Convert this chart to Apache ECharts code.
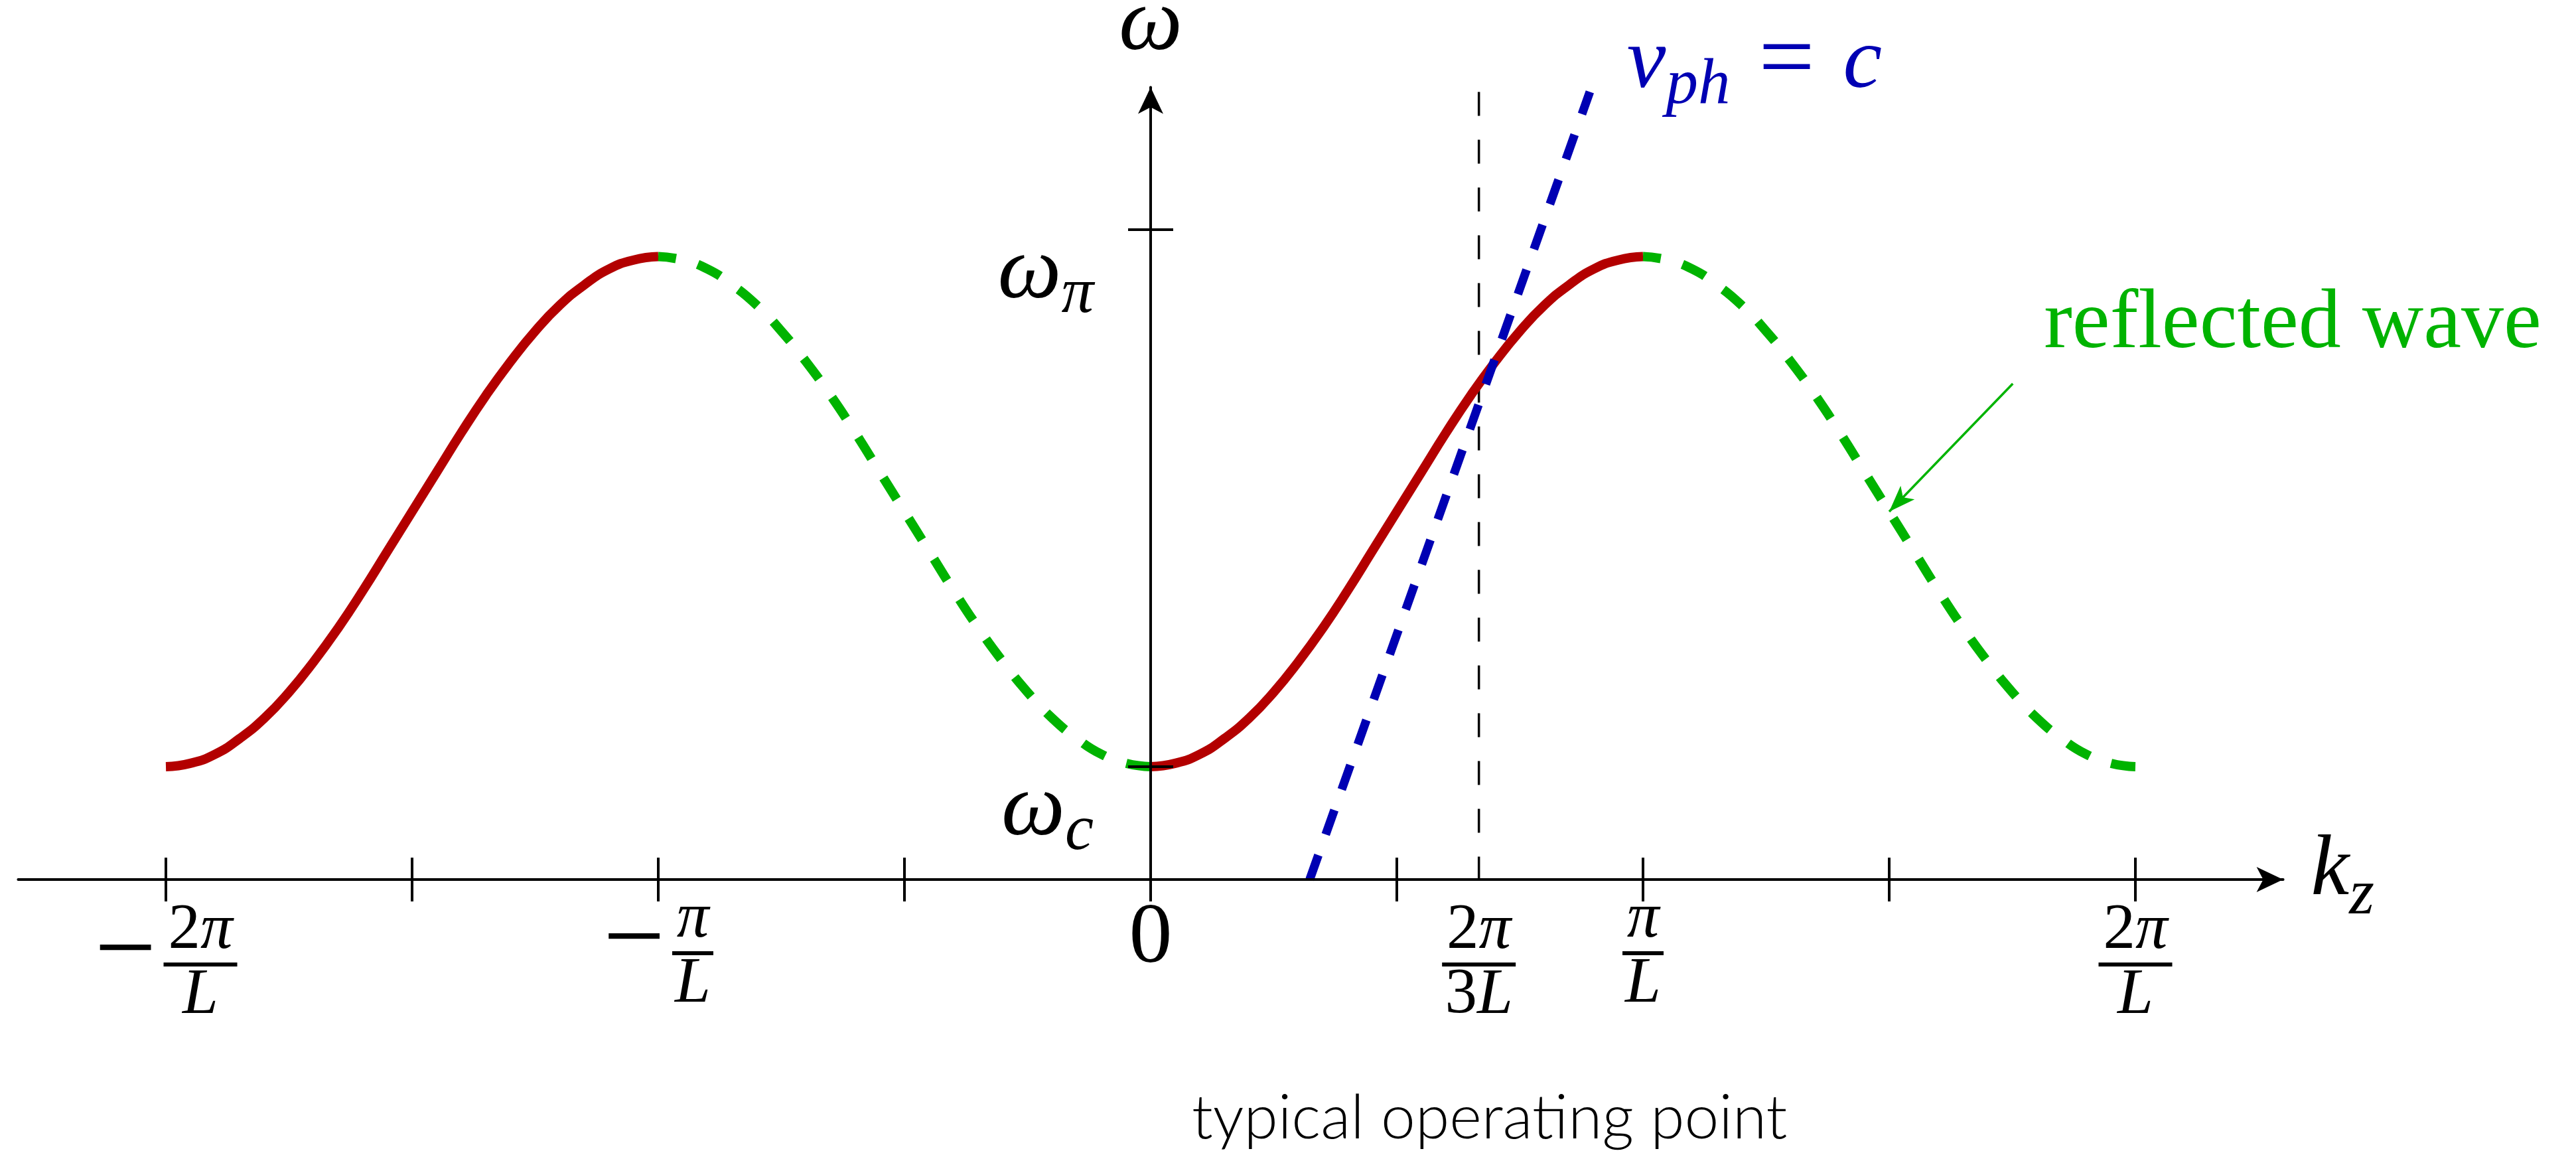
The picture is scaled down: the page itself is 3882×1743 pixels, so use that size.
<!DOCTYPE html>
<html>
<head>
<meta charset="utf-8">
<title>Dispersion diagram of a periodic waveguide</title>
<script src="https://cdn.jsdelivr.net/npm/echarts@6/dist/echarts.min.js"></script>
<style>
  html, body { margin: 0; padding: 0; background: #ffffff; }
  #chart { width: 3882px; height: 1743px; }
</style>
</head>
<body>
<div id="chart"></div>
<script>
// Wave number k_z in units of pi/L
const kzGrid = [
  -2.00, -1.95, -1.90, -1.85, -1.80, -1.75, -1.70, -1.65, -1.60, -1.55,
  -1.50, -1.45, -1.40, -1.35, -1.30, -1.25, -1.20, -1.15, -1.10, -1.05,
  -1.00, -0.95, -0.90, -0.85, -0.80, -0.75, -0.70, -0.65, -0.60, -0.55,
  -0.50, -0.45, -0.40, -0.35, -0.30, -0.25, -0.20, -0.15, -0.10, -0.05,
  0.00, 0.05, 0.10, 0.15, 0.20, 0.25, 0.30, 0.35, 0.40, 0.45,
  0.50, 0.55, 0.60, 0.65, 0.70, 0.75, 0.80, 0.85, 0.90, 0.95,
  1.00, 1.05, 1.10, 1.15, 1.20, 1.25, 1.30, 1.35, 1.40, 1.45,
  1.50, 1.55, 1.60, 1.65, 1.70, 1.75, 1.80, 1.85, 1.90, 1.95,
  2.00
];
// Frequency omega(k_z) in units of omega_c
const omegaCurve = [
  1.00, 1.03, 1.11, 1.25, 1.43, 1.66, 1.93, 2.23, 2.56, 2.91,
  3.26, 3.61, 3.96, 4.29, 4.59, 4.86, 5.09, 5.27, 5.41, 5.49,
  5.52, 5.49, 5.41, 5.27, 5.09, 4.86, 4.59, 4.29, 3.96, 3.61,
  3.26, 2.91, 2.56, 2.23, 1.93, 1.66, 1.43, 1.25, 1.11, 1.03,
  1.00, 1.03, 1.11, 1.25, 1.43, 1.66, 1.93, 2.23, 2.56, 2.91,
  3.26, 3.61, 3.96, 4.29, 4.59, 4.86, 5.09, 5.27, 5.41, 5.49,
  5.52, 5.49, 5.41, 5.27, 5.09, 4.86, 4.59, 4.29, 3.96, 3.61,
  3.26, 2.91, 2.56, 2.23, 1.93, 1.66, 1.43, 1.25, 1.11, 1.03,
  1.00
];
// Index ranges of the forward-wave (solid) and reflected-wave (dashed) branches
const forwardBranches = [[0, 20], [40, 60]];
const reflectedBranches = [[20, 40], [60, 80]];

// Light line v_ph = c
const phaseKz = [0.323, 0.892];
const phaseOmega = [0, 6.98];

// Operating point marker
const operatingKz = 2 / 3;
const operatingTop = 6.98;

// Pointer from the "reflected wave" note to the curve at k_z = 1.5 pi/L
const pointerFrom = [1.751, 4.394];
const pointerToIndex = 70;

// Axis ranges and ticks
const kzRange = [-2.3, 2.3];
const omegaRange = [0, 7.02];
const kzTickValues = [-2, -1.5, -1, -0.5, 0, 0.5, 1, 1.5, 2];
const kzLabelValues = [-2, -1, 0, 2 / 3, 1, 2];
const kzLabelText = ['−2π/L', '−π/L', '0', '2π/3L', 'π/L', '2π/L'];
const omegaTickValues = [1.0, 5.76];
const omegaTickText = ['ω_c', 'ω_π'];

const ink = '#000000';
const red = '#b30000';
const green = '#00b300';
const blue = '#0000b3';
const serif = 'Liberation Serif';

const gridBox = { left: 27.4, right: 441.4, top: 131.6, bottom: 418 };
// The omega axis stands at k_z = 0, i.e. shifted right from the grid's left edge
const plotWidth = 3882 - gridBox.left - gridBox.right;
const omegaAxisShift = plotWidth * (0 - kzRange[0]) / (kzRange[1] - kzRange[0]);

function pointsOf(range) {
  const out = [];
  for (let i = range[0]; i <= range[1]; i++) out.push([kzGrid[i], omegaCurve[i]]);
  return out;
}

function glyphTokens(str, digitStyle, letterStyle) {
  return Array.from(str).map(function (ch) {
    return /[0-9]/.test(ch) ? '{' + digitStyle + '|' + ch + '}' : '{' + letterStyle + '|' + ch + '}';
  }).join('');
}

// Stacked fraction markup for the k_z tick labels
function kzLabelMarkup(text) {
  if (text.indexOf('/') < 0) return '{zero|' + text + '}';
  const negative = text.charAt(0) === '−';
  const parts = (negative ? text.slice(1) : text).split('/');
  const num = parts[0], den = parts[1];
  const top = num === 'π' ? '{pin|π}' : glyphTokens(num, 'numD', 'numI');
  const bottom = glyphTokens(den, 'denD', 'denI');
  const bar = num.length > 1 ? '{bar2|}' : '{bar1|}';
  return negative
    ? '{sp|}' + top + '\n{mi|−}' + bar + '\n{sp|}' + bottom
    : top + '\n' + bar + '\n' + bottom;
}

function subscriptMarkup(text) {
  const p = text.split('_');
  return '{w|' + p[0] + '}{sub|' + p[1] + '}';
}

function lookup(values, texts, v) {
  for (let i = 0; i < values.length; i++) {
    if (Math.abs(values[i] - v) < 1e-6) return texts[i];
  }
  return '';
}

const kzRich = {
  zero: { fontFamily: serif, fontSize: 130, lineHeight: 111, verticalAlign: 'middle', color: ink },
  numD: { fontFamily: serif, fontSize: 97, lineHeight: 87, verticalAlign: 'middle', color: ink },
  numI: { fontFamily: serif, fontSize: 97, fontStyle: 'italic', lineHeight: 87, verticalAlign: 'middle', color: ink },
  pin: { fontFamily: serif, fontSize: 97, fontStyle: 'italic', lineHeight: 70, height: 88, verticalAlign: 'bottom', color: ink },
  denD: { fontFamily: serif, fontSize: 97, lineHeight: 80, verticalAlign: 'middle', color: ink },
  denI: { fontFamily: serif, fontSize: 97, fontStyle: 'italic', lineHeight: 80, verticalAlign: 'middle', color: ink },
  bar2: { width: 111, height: 6, lineHeight: 14, backgroundColor: ink, verticalAlign: 'middle' },
  bar1: { width: 62, height: 6, lineHeight: 14, backgroundColor: ink, verticalAlign: 'middle' },
  sp: { width: 104, height: 1, lineHeight: 1, verticalAlign: 'middle' },
  mi: { fontFamily: serif, fontSize: 165, width: 104, align: 'left', lineHeight: 14, height: 42, verticalAlign: 'bottom', color: ink }
};

const omegaRich = {
  w: { fontFamily: serif, fontSize: 136, fontStyle: 'italic', lineHeight: 133, verticalAlign: 'middle', color: ink },
  sub: { fontFamily: serif, fontSize: 97, fontStyle: 'italic', lineHeight: 69, height: 69, verticalAlign: 'bottom', color: ink }
};

// Arrowheads: the tip sits on the axis end, 40 px long and about 38 px wide
const arrowLine = {
  show: true,
  onZero: false,
  symbol: ['none', 'arrow'],
  symbolSize: [28.5, 40],
  symbolOffset: [0, 0],
  lineStyle: { color: ink, width: 4 }
};

const chart = echarts.init(document.getElementById('chart'), null, { renderer: 'canvas' });

const curveLine = function (color, dashed) {
  return {
    color: color,
    width: 14,
    cap: 'butt',
    join: 'round',
    type: dashed ? [38, 34] : 'solid',
    dashOffset: dashed ? 11 : 0
  };
};

const curveSeries = function (range, color, dashed) {
  return {
    name: dashed ? 'reflected wave' : 'forward wave',
    type: 'line', z: 2, silent: true,
    smooth: 0.5,
    showSymbol: false, symbol: 'none',
    data: pointsOf(range),
    lineStyle: curveLine(color, dashed)
  };
};

const pointerSeries = curveSeries(reflectedBranches[1], green, true);
pointerSeries.markLine = {
  silent: true,
  animation: false,
  symbol: ['none', 'arrow'],
  symbolSize: [22, 40],
  label: { show: false },
  emphasis: { disabled: true },
  lineStyle: { color: green, width: 3.5, type: 'solid' },
  data: [[{ coord: pointerFrom }, { coord: [kzGrid[pointerToIndex], omegaCurve[pointerToIndex]] }]]
};

const option = {
  animation: false,
  backgroundColor: '#ffffff',
  grid: {
    left: gridBox.left, right: gridBox.right, top: gridBox.top, bottom: gridBox.bottom,
    show: false, containLabel: false, outerBoundsMode: 'none'
  },
  xAxis: [
    {
      type: 'value', min: kzRange[0], max: kzRange[1], position: 'bottom', z: 10,
      name: '{k|k}{sub|z}', nameLocation: 'end', nameGap: 42,
      nameTextStyle: {
        align: 'left', verticalAlign: 'middle', padding: [0, 0, 24, 0],
        rich: {
          k: { fontFamily: serif, fontSize: 130, fontStyle: 'italic', lineHeight: 130, verticalAlign: 'middle', color: ink },
          sub: { fontFamily: serif, fontSize: 97, fontStyle: 'italic', lineHeight: 56, height: 56, verticalAlign: 'bottom', color: ink }
        }
      },
      axisLine: arrowLine,
      axisTick: { show: true, length: 33, customValues: kzTickValues, lineStyle: { color: ink, width: 4 } },
      axisLabel: {
        show: true, margin: 34, verticalAlign: 'top', align: 'center',
        customValues: kzLabelValues,
        formatter: function (v) { return kzLabelMarkup(lookup(kzLabelValues, kzLabelText, v)); },
        rich: kzRich
      },
      splitLine: { show: false }
    },
    {
      type: 'value', min: kzRange[0], max: kzRange[1], position: 'bottom', z: 10,
      axisLine: { show: false, onZero: false },
      axisTick: { show: true, inside: true, length: 33, customValues: kzTickValues, lineStyle: { color: ink, width: 4 } },
      axisLabel: { show: false },
      splitLine: { show: false }
    }
  ],
  yAxis: [
    {
      type: 'value', min: omegaRange[0], max: omegaRange[1], position: 'left', offset: -omegaAxisShift, z: 10,
      name: 'ω', nameLocation: 'end', nameGap: 93,
      nameTextStyle: { fontFamily: serif, fontSize: 136, fontStyle: 'italic', color: ink, align: 'center', verticalAlign: 'middle' },
      axisLine: arrowLine,
      axisTick: { show: true, length: 34, customValues: omegaTickValues, lineStyle: { color: ink, width: 4 } },
      axisLabel: {
        show: true, margin: 86, align: 'right', verticalAlign: 'top',
        customValues: omegaTickValues,
        formatter: function (v) { return subscriptMarkup(lookup(omegaTickValues, omegaTickText, v)); },
        rich: omegaRich
      },
      splitLine: { show: false }
    },
    {
      type: 'value', min: omegaRange[0], max: omegaRange[1], position: 'left', offset: -omegaAxisShift, z: 10,
      axisLine: { show: false, onZero: false },
      axisTick: { show: true, inside: true, length: 34, customValues: omegaTickValues, lineStyle: { color: ink, width: 4 } },
      axisLabel: { show: false },
      splitLine: { show: false }
    }
  ],
  series: [
    {
      name: 'operating point', type: 'line', z: 1, silent: true,
      showSymbol: false, symbol: 'none',
      data: [[operatingKz, operatingTop], [operatingKz, 0]],
      lineStyle: { color: ink, width: 3.5, type: [36, 36], cap: 'butt' }
    },
    curveSeries(forwardBranches[0], red, false),
    curveSeries(reflectedBranches[0], green, true),
    curveSeries(forwardBranches[1], red, false),
    pointerSeries,
    {
      name: 'v_ph = c', type: 'line', z: 3, silent: true,
      showSymbol: false, symbol: 'none',
      data: [[phaseKz[0], phaseOmega[0]], [phaseKz[1], phaseOmega[1]]],
      lineStyle: { color: blue, width: 13, type: [39, 33], cap: 'butt' }
    }
  ]
};

chart.setOption(option);

// Annotations anchored to data points
const phaseEnd = chart.convertToPixel({ gridIndex: 0 }, [phaseKz[1], phaseOmega[1]]);
const pointerStart = chart.convertToPixel({ gridIndex: 0 }, pointerFrom);
const operatingFoot = chart.convertToPixel({ gridIndex: 0 }, [operatingKz, 0]);

chart.setOption({
  graphic: [
    {
      type: 'text', z: 20, silent: true,
      x: phaseEnd[0] + 56, y: phaseEnd[1] - 42.5,
      style: {
        text: '{v|v}{sub|ph}{eq|=}{c|c}',
        fill: blue, align: 'left', verticalAlign: 'middle',
        rich: {
          v: { fontFamily: serif, fontSize: 132, fontStyle: 'italic', lineHeight: 133, verticalAlign: 'middle', fill: blue },
          sub: { fontFamily: serif, fontSize: 97, fontStyle: 'italic', lineHeight: 65, height: 65, verticalAlign: 'bottom', fill: blue },
          eq: { fontFamily: serif, fontSize: 150, width: 170, align: 'center', lineHeight: 133, verticalAlign: 'middle', fill: blue },
          c: { fontFamily: serif, fontSize: 132, fontStyle: 'italic', lineHeight: 133, verticalAlign: 'middle', fill: blue }
        }
      }
    },
    {
      type: 'text', z: 20, silent: true,
      x: pointerStart[0] + 47, y: pointerStart[1] - 89,
      style: {
        text: 'reflected wave',
        fill: green, align: 'left', verticalAlign: 'middle',
        fontFamily: serif, fontSize: 128
      }
    },
    {
      type: 'text', z: 20, silent: true,
      x: operatingFoot[0] + 16, y: operatingFoot[1] + 360,
      style: {
        text: 'typical operating point',
        fill: ink, align: 'center', verticalAlign: 'middle',
        fontFamily: 'Lato', fontWeight: 300, fontSize: 93
      }
    }
  ]
});
</script>
</body>
</html>
